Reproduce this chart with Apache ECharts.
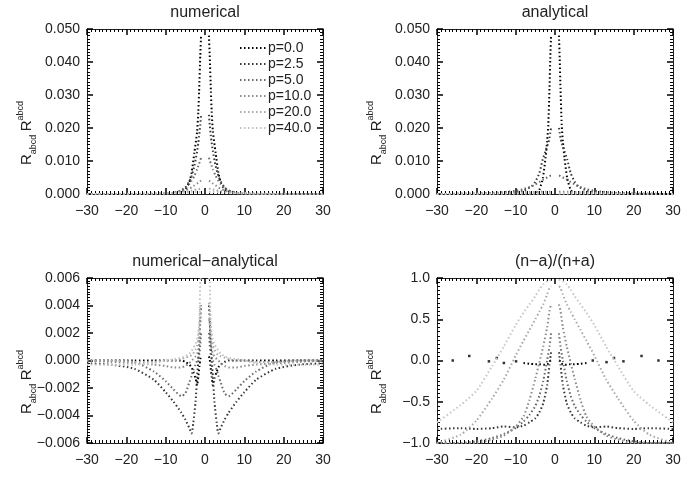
<!DOCTYPE html>
<html>
<head>
<meta charset="utf-8">
<script src="https://cdn.jsdelivr.net/npm/echarts@6/dist/echarts.min.js"></script>
<style>
html, body { margin: 0; padding: 0; background: #fff; }
#main { width: 700px; height: 500px; }
</style>
</head>
<body>
<div id="main"></div>
<script>
// one curve per p value
const names = ["p=0.0", "p=2.5", "p=5.0", "p=10.0", "p=20.0", "p=40.0"];
const titles = ["numerical", "analytical", "numerical\u2212analytical", "(n\u2212a)/(n+a)"];

// panel 1: numerical
const x_num = [-30,-15,-10,-8,-6,-5,-4,-3.4,-2.7,-2,-1.7,-1.5,-1.2,-1,0,1,1.2,1.5,1.7,2,2.7,3.4,4,5,6,8,10,15,30];
const num_p0  = [0,0,0,.0001,.0006,.0014,.0035,.0065,.0125,.019,.025,.031,.042,.048,"-",.048,.042,.031,.025,.019,.0125,.0065,.0035,.0014,.0006,.0001,0,0,0];
const num_p25 = [0,0,.0001,.0003,.0011,.002,.0038,.0055,.0085,.013,.0155,.0175,.021,.024,"-",.024,.021,.0175,.0155,.013,.0085,.0055,.0038,.002,.0011,.0003,.0001,0,0];
const num_p5  = [0,0,.00015,.0004,.0011,.0018,.003,.004,.0055,.0075,.0085,.0092,.0102,.011,"-",.011,.0102,.0092,.0085,.0075,.0055,.004,.003,.0018,.0011,.0004,.00015,0,0];
const num_p10 = [0,0,.0001,.0003,.0007,.0011,.0016,.002,.0026,.0032,.0035,.0037,.0039,.004,"-",.004,.0039,.0037,.0035,.0032,.0026,.002,.0016,.0011,.0007,.0003,.0001,0,0];
const num_p20 = [0,.00005,.0002,.0003,.0005,.0007,.0009,.001,.0012,.0014,.0015,.0015,.0016,.0016,"-",.0016,.0016,.0015,.0015,.0014,.0012,.001,.0009,.0007,.0005,.0003,.0002,.00005,0];
const num_p40 = [0,.0001,.0002,.0002,.0003,.0004,.0004,.0005,.0005,.0006,.0006,.0006,.0006,.0006,"-",.0006,.0006,.0006,.0006,.0006,.0005,.0005,.0004,.0004,.0003,.0002,.0002,.0001,0];

// panel 2: analytical
const x_ana = [-30,-20,-16,-12,-10,-8,-6,-5,-4,-3.1,-2.4,-2,-1.7,-1.4,-1.2,-1,0,1,1.2,1.4,1.7,2,2.4,3.1,4,5,6,8,10,12,16,20,30];
const ana_p0  = [0,0,0,0,0,0,0,.0001,.0012,.0048,.011,.016,.021,.032,.041,.048,"-",.048,.041,.032,.021,.016,.011,.0048,.0012,.0001,0,0,0,0,0,0,0];
const ana_p25 = [0,0,.0001,.0003,.0005,.001,.0023,.0037,.0063,.0105,.013,.0145,.0155,.017,.0185,.02,"-",.02,.0185,.017,.0155,.0145,.013,.0105,.0063,.0037,.0023,.001,.0005,.0003,.0001,0,0];
const ana_p5  = [0,.0001,.0003,.0007,.001,.0015,.0023,.0029,.0036,.0043,.0048,.005,.0052,.0054,.0055,.0055,"-",.0055,.0055,.0054,.0052,.005,.0048,.0043,.0036,.0029,.0023,.0015,.001,.0007,.0003,.0001,0];
const ana_p10 = [0,.0001,.0002,.0003,.0004,.0005,.0005,.0006,.0006,.0007,.0007,.0007,.0007,.0007,.0007,.0007,"-",.0007,.0007,.0007,.0007,.0007,.0007,.0007,.0006,.0006,.0005,.0005,.0004,.0003,.0002,.0001,0];
const ana_p20 = [0,.0001,.0001,.0002,.0002,.0003,.0003,.0003,.0003,.0003,.0003,.0003,.0003,.0003,.0003,.0003,"-",.0003,.0003,.0003,.0003,.0003,.0003,.0003,.0003,.0003,.0003,.0003,.0002,.0002,.0001,.0001,0];
const ana_p40 = [0,0,.0001,.0001,.0001,.0001,.0001,.0001,.0001,.0001,.0001,.0001,.0001,.0001,.0001,.0001,"-",.0001,.0001,.0001,.0001,.0001,.0001,.0001,.0001,.0001,.0001,.0001,.0001,.0001,.0001,0,0];

// panel 3: numerical - analytical
const x_dif = [-30,-24,-18,-13,-10,-8,-6,-5,-4,-3.4,-3,-2.4,-2,-1.7,-1.4,-1.2,-1,0,1,1.2,1.4,1.7,2,2.4,3,3.4,4,5,6,8,10,13,18,24,30];
const dif_p0  = [0,0,0,0,0,0,0,-.0001,-.0003,-.0005,-.0008,-.0013,-.0018,-.0012,-.0004,.0001,.0003,"-",.0003,.0001,-.0004,-.0012,-.0018,-.0013,-.0008,-.0005,-.0003,-.0001,0,0,0,0,0,0,0];
const dif_p25 = [-.0002,-.0003,-.0006,-.0014,-.0023,-.003,-.0038,-.0043,-.0049,-.0053,-.0046,-.003,-.0012,0,.0015,.003,.004,"-",.004,.003,.0015,0,-.0012,-.003,-.0046,-.0053,-.0049,-.0043,-.0038,-.003,-.0023,-.0014,-.0006,-.0003,-.0002];
const dif_p5  = [0,0,-.0001,-.0008,-.0015,-.0021,-.0026,-.0024,-.0016,-.0011,-.0007,-.0003,0,.0002,.0005,.0012,.002,"-",.002,.0012,.0005,.0002,0,-.0003,-.0007,-.0011,-.0016,-.0024,-.0026,-.0021,-.0015,-.0008,-.0001,0,0];
const dif_p10 = [0,-.0001,-.0002,-.0003,-.0004,-.0005,-.0005,-.0004,-.0002,0,.0001,.0003,.0005,.0008,.0015,.0028,.003,"-",.003,.0028,.0015,.0008,.0005,.0003,.0001,0,-.0002,-.0004,-.0005,-.0005,-.0004,-.0003,-.0002,-.0001,0];
const dif_p20 = [0,0,-.0001,-.0001,0,0,.0001,.0002,.0003,.0004,.0005,.0008,.0011,.0015,.0025,.004,.0042,"-",.0042,.004,.0025,.0015,.0011,.0008,.0005,.0004,.0003,.0002,.0001,0,0,-.0001,-.0001,0,0];
const dif_p40 = [-.0003,-.0003,-.0003,-.0002,0,.0001,.0002,.0003,.0005,.0007,.0009,.0012,.0016,.002,.003,.0058,.006,"-",.006,.0058,.003,.002,.0016,.0012,.0009,.0007,.0005,.0003,.0002,.0001,0,-.0002,-.0003,-.0003,-.0003];

// panel 4: (n-a)/(n+a)
const x_rat = [-30,-24,-20,-16,-13,-10,-8,-6.5,-5,-4,-3,-2,-1.4,-1,0,1,1.4,2,3,4,5,6.5,8,10,13,16,20,24,30];
const rat_p0  = ["-","-","-","-","-","-",-.03,-.04,-.045,-.045,-.05,-.05,-.01,0,"-",0,-.01,-.05,-.05,-.045,-.045,-.04,-.03,"-","-","-","-","-","-"];
const rat_p25 = [-.83,-.82,-.83,-.82,-.8,-.81,-.79,-.75,-.7,-.63,-.52,-.3,-.05,.1,"-",.1,-.05,-.3,-.52,-.63,-.7,-.75,-.79,-.81,-.8,-.82,-.83,-.82,-.83];
const rat_p5  = [-1,-1,-.98,-.94,-.89,-.82,-.74,-.66,-.55,-.43,-.25,0,.17,.33,"-",.33,.17,0,-.25,-.43,-.55,-.66,-.74,-.82,-.89,-.94,-.98,-1,-1];
const rat_p10 = [-1,-1,-1,-.96,-.91,-.8,-.68,-.48,-.22,-.03,.17,.4,.6,.68,"-",.68,.6,.4,.17,-.03,-.22,-.48,-.68,-.8,-.91,-.96,-1,-1,-1];
const rat_p20 = [-1,-.9,-.73,-.46,-.23,.06,.24,.37,.5,.59,.68,.8,.88,.9,"-",.9,.88,.8,.68,.59,.5,.37,.24,.06,-.23,-.46,-.73,-.9,-1];
const rat_p40 = [-.75,-.54,-.37,-.07,.17,.43,.58,.68,.78,.86,.92,.96,.97,.98,"-",.98,.97,.96,.92,.86,.78,.68,.58,.43,.17,-.07,-.37,-.54,-.75];
// loose black points far from the centre
const rat_p0_far_x = [-26,-21.8,-16.8,-14.8,-13,-9.9,9.6,13.1,15,17.4,22,26.3];
const rat_p0_far_y = [0,.055,-.01,.03,-.03,-.01,0,-.02,.03,-.01,.055,0];

const colors = ["#000000", "#383838", "#6a6a6a", "#8a8a8a", "#a8a8a8", "#c6c6c6"];

const panels = [
    { x: x_num, ys: [num_p0, num_p25, num_p5, num_p10, num_p20, num_p40], min: 0, max: 0.05, step: 0.01, dig: 3 },
    { x: x_ana, ys: [ana_p0, ana_p25, ana_p5, ana_p10, ana_p20, ana_p40], min: 0, max: 0.05, step: 0.01, dig: 3 },
    { x: x_dif, ys: [dif_p0, dif_p25, dif_p5, dif_p10, dif_p20, dif_p40], min: -0.006, max: 0.006, step: 0.002, dig: 3 },
    { x: x_rat, ys: [rat_p0, rat_p25, rat_p5, rat_p10, rat_p20, rat_p40], min: -1, max: 1, step: 0.5, dig: 1 },
];
const boxes = [
    { left: 87, top: 29 },
    { left: 437, top: 29 },
    { left: 87, top: 278 },
    { left: 437, top: 278 },
];

const font = "Liberation Sans";
const ink = "#222";

function fmt(v, d) {
    if (Math.abs(v) < 1e-9) v = 0;
    return v.toFixed(d).replace("-", "\u2212");
}

// fresh style objects for each axis, ticks point into the box
function axisParts() {
    return {
        axisLine: { show: true, onZero: false, lineStyle: { color: ink, width: 1 } },
        axisTick: { show: true, inside: true, length: 6, lineStyle: { color: "#000", width: 1.5 } },
        minorTick: { show: true, splitNumber: 10, length: 3, lineStyle: { color: "#000", width: 1 } },
        splitLine: { show: false },
        minorSplitLine: { show: false },
    };
}

let grid = [], xAxis = [], yAxis = [], series = [], graphic = [];

boxes.forEach((b, i) => {
    grid.push({ left: b.left, top: b.top, width: 236, height: 165 });
    let p = panels[i];
    ["bottom", "top"].forEach((pos) => {
        xAxis.push(Object.assign({
            type: "value", gridIndex: i, position: pos, min: -30, max: 30, interval: 10,
            axisLabel: {
                show: pos == "bottom", margin: 10, color: ink, fontFamily: font, fontSize: 14,
                formatter: (v) => fmt(v, 0),
            },
        }, axisParts()));
    });
    ["left", "right"].forEach((pos) => {
        yAxis.push(Object.assign({
            type: "value", gridIndex: i, position: pos, min: p.min, max: p.max, interval: p.step,
            axisLabel: {
                show: pos == "left", margin: 7, color: ink, fontFamily: font, fontSize: 14,
                formatter: (v) => fmt(v, p.dig),
            },
        }, axisParts()));
    });
    p.ys.forEach((ys, k) => {
        series.push({
            name: names[k],
            type: "line",
            xAxisIndex: 2 * i,
            yAxisIndex: 2 * i,
            data: p.x.map((x, j) => [x, ys[j]]),
            symbol: "none",
            smooth: 0.2,
            connectNulls: false,
            color: colors[k],
            lineStyle: { color: colors[k], width: 2, type: [1.5, 2.5] },
            silent: true,
        });
    });
    graphic.push({
        type: "text", x: b.left + 118, y: b.top - 16,
        style: { text: titles[i], font: "16px " + font, fill: ink, align: "center", verticalAlign: "middle" },
    });
    graphic.push({
        type: "text", x: b.left - 60, y: b.top + 104, rotation: Math.PI / 2,
        style: {
            text: "{r|R}{s|abcd} {r|R}{u|abcd}",
            align: "center", verticalAlign: "middle", fill: ink,
            rich: {
                r: { fontFamily: font, fontSize: 15, lineHeight: 22, verticalAlign: "middle", fill: ink },
                s: { fontFamily: font, fontSize: 9, lineHeight: 9, verticalAlign: "bottom", fill: ink },
                u: { fontFamily: font, fontSize: 9, lineHeight: 9, verticalAlign: "top", fill: ink },
            },
        },
    });
});

series.push({
    type: "scatter",
    xAxisIndex: 6,
    yAxisIndex: 6,
    data: rat_p0_far_x.map((x, j) => [x, rat_p0_far_y[j]]),
    symbol: "rect",
    symbolSize: 2.5,
    itemStyle: { color: "#000" },
    silent: true,
});

let chart = echarts.init(document.getElementById("main"));
chart.setOption({
    animation: false,
    backgroundColor: "#fff",
    grid: grid,
    xAxis: xAxis,
    yAxis: yAxis,
    series: series,
    graphic: graphic,
    legend: {
        data: names,
        orient: "vertical",
        left: 234,
        top: 36,
        itemWidth: 26,
        itemHeight: 10,
        itemGap: 2,
        selectedMode: false,
        itemStyle: { opacity: 0 },
        textStyle: { fontFamily: font, fontSize: 14, color: ink, lineHeight: 11, padding: [0, 0, 0, -3] },
    },
});
</script>
</body>
</html>
